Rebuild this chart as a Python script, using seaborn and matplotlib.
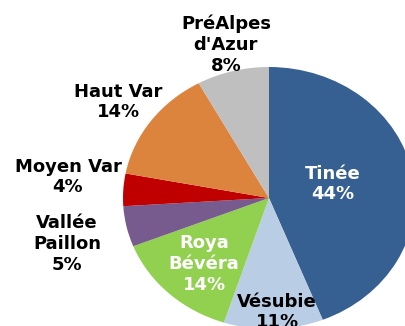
import matplotlib
matplotlib.use("Agg")
import matplotlib.pyplot as plt
import seaborn as sns

# Share of each valley (percent), clockwise from 12 o'clock
valleys = ["Tinée", "Vésubie", "Roya\nBévéra", "Vallée\nPaillon",
           "Moyen Var", "Haut Var", "PréAlpes\nd'Azur"]
shares = [44, 11, 14, 5, 4, 14, 8]

colors = ["#376092", "#B9CDE5", "#92D050", "#775A8E",
          "#C00000", "#DC843E", "#BFBFBF"]
label_colors = ["white", "black", "white", "black", "black", "black", "black"]
# label anchor points in pie units (radius = 1)
label_xy = [(0.438, 0.107), (0.055, -0.87), (-0.445, -0.504),
            (-1.384, -0.351), (-1.377, 0.160), (-1.034, 0.733),
            (-0.295, 1.168)]

sns.set_theme(style="white")
plt.rcParams["font.family"] = ["DejaVu Sans"]

fig = plt.figure(figsize=(4.06, 3.26), dpi=100)
ax = fig.add_axes([0, 0, 1, 1])

ax.pie(shares, colors=colors, startangle=90, counterclock=False,
       radius=1, wedgeprops=dict(linewidth=0))
ax.set_aspect("auto")
ax.set_xlim(-269 / 146, 137 / 146)
ax.set_ylim(-128 / 131, 198 / 131)
ax.axis("off")

for name, val, (x, y), c in zip(valleys, shares, label_xy, label_colors):
    ax.text(x, y, f"{name}\n{val}%", ha="center", va="center",
            fontsize=13, fontweight="bold", color=c, linespacing=1.2)

fig.savefig("out.png", dpi=100, facecolor="white")
